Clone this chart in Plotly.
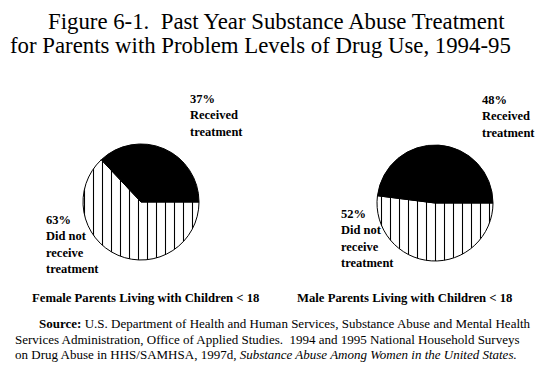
import plotly.graph_objects as go

# ---- data ----
categories = ["Received treatment", "Did not receive treatment"]
groups = ["Female Parents Living with Children < 18", "Male Parents Living with Children < 18"]
female_values = [37, 63]
male_values = [48, 52]

# page body has an 8px default margin; figure is sized to fit the window
OFF = 8
W, H = 556 - OFF, 381 - OFF


def px(x):
    return (x - OFF) / W


def py(y):
    return 1 - (y - OFF) / H


fig = go.Figure()

pie_style = dict(
    sort=False,
    direction="clockwise",
    rotation=90,
    textinfo="none",
    hoverinfo="label+percent",
    showlegend=False,
    marker=dict(
        colors=["white", "black"],
        line=dict(color="black", width=1),
        pattern=dict(shape=["|", ""], fgcolor="black", bgcolor="white", size=9, solidity=0.12),
    ),
)


def dom(cx, cy, r):
    return dict(x=[px(cx - r), px(cx + r)], y=[py(cy + r), py(cy - r)])


# hatched (did not receive) first, starting at 3 o'clock going clockwise
fig.add_trace(go.Pie(labels=categories[::-1], values=female_values[::-1],
                     domain=dom(141, 202, 58), **pie_style))
fig.add_trace(go.Pie(labels=categories[::-1], values=male_values[::-1],
                     domain=dom(435, 203, 58), **pie_style))

ann = []


def add(text, x, y, size, bold=False, family="Liberation Serif", yanchor="middle", **kw):
    ann.append(dict(
        text=f"<b>{text}</b>" if bold else text,
        x=px(x), y=py(y), xref="paper", yref="paper",
        xanchor="left", yanchor=yanchor, showarrow=False, align="left",
        font=dict(family=family, size=size, color="black"), **kw,
    ))


# title
add("Figure 6-1.  Past Year Substance Abuse Treatment", 47, 8, 22.8, yanchor="top", borderpad=0)
add("for Parents with Problem Levels of Drug Use, 1994-95", 9, 46, 22.8, borderpad=0)

# slice labels
add(f"{female_values[0]}%<br>Received<br>treatment", 188, 116, 12.5, bold=True)
add(f"{female_values[1]}%<br>Did not<br>receive<br>treatment", 44, 244, 12.5, bold=True)
add(f"{male_values[0]}%<br>Received<br>treatment", 480, 117, 12.5, bold=True)
add(f"{male_values[1]}%<br>Did not<br>receive<br>treatment", 339, 238, 12.5, bold=True)

# group labels
add(groups[0], 30, 298, 12.7, bold=True)
add(groups[1], 295, 298, 12.7, bold=True)

# source
add("<b>Source:</b> U.S. Department of Health and Human Services, Substance Abuse and Mental Health", 37, 323, 13)
add("Services Administration, Office of Applied Studies.  1994 and 1995 National Household Surveys", 13, 339, 13)
add("on Drug Abuse in HHS/SAMHSA, 1997d, <i>Substance Abuse Among Women in the United States.</i>", 13, 354, 13)

fig.update_layout(
    width=W, height=H,
    margin=dict(l=0, r=0, t=0, b=0),
    paper_bgcolor="white", plot_bgcolor="white",
    annotations=ann,
)

fig.write_html("out.html")
